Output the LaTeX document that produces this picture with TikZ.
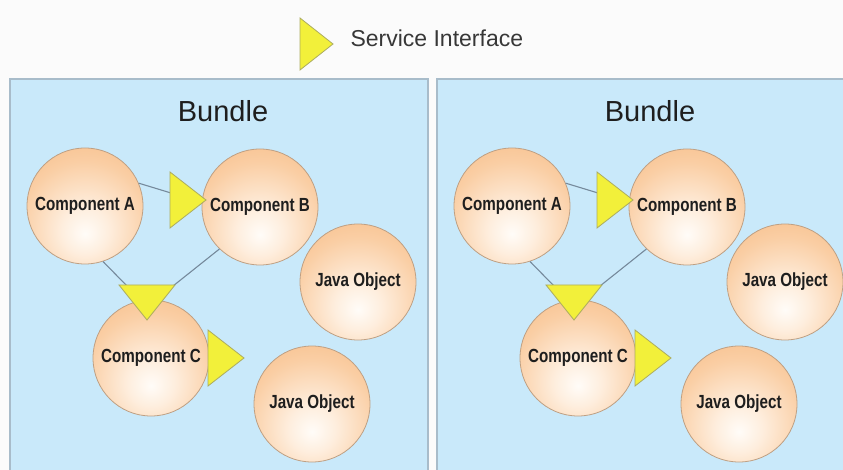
\documentclass[tikz,border=0pt]{standalone}
\usepackage{fontspec}
\setmainfont{Liberation Sans}
\usepackage{graphicx}
\usetikzlibrary{calc}

\definecolor{pagebg}{RGB}{251,251,251}
\definecolor{bundlefill}{RGB}{201,233,250}
\definecolor{bundleline}{RGB}{168,188,202}
\definecolor{orbedge}{RGB}{244,178,118}
\definecolor{orbmid}{RGB}{250,206,164}
\definecolor{orblight}{RGB}{254,238,222}
\definecolor{orbcore}{RGB}{255,252,248}
\definecolor{orbline}{RGB}{190,160,132}
\definecolor{ifacefill}{RGB}{242,240,58}
\definecolor{ifaceline}{RGB}{172,172,96}
\definecolor{wire}{RGB}{118,138,156}
\definecolor{ink}{RGB}{30,30,30}
\definecolor{softink}{RGB}{55,55,55}

% warm sphere shading, highlight a little below the centre
\pgfdeclareradialshading{orb}{\pgfpoint{0bp}{-12bp}}{%
  color(0bp)=(orbcore); color(10bp)=(orblight); color(28bp)=(orbmid);
  color(50bp)=(orbedge); color(100bp)=(orbedge)}

\newcommand\complabel[1]{\scalebox{0.8}[1]{#1}}

\tikzset{
  bundlebox/.style={fill=bundlefill, draw=bundleline, line width=1.2pt},
  bundletitle/.style={anchor=base, text=ink, font=\fontsize{29}{29}\selectfont},
  comp/.style={circle, minimum size=116pt, inner sep=0pt, shading=orb,
    draw=orbline, line width=0.8pt, text=ink,
    font=\fontsize{19}{19}\selectfont\bfseries},
  iface/.style={fill=ifacefill, draw=ifaceline, line width=0.8pt, line join=miter},
  wirestyle/.style={draw=wire, line width=1.1pt},
  ifaceright/.pic={\path[iface] (0,-28) -- (36,0) -- (0,28) -- cycle;},
  ifacedown/.pic={\path[iface] (-28,0) -- (28,0) -- (0,35) -- cycle;},
}

\begin{document}
\begin{tikzpicture}[x=1pt, y=-1pt]
  \clip (0,0) rectangle (843,470);
  \fill[pagebg] (0,0) rectangle (843,470);

  % legend
  \path[iface] (300,18) -- (333,44) -- (300,70) -- cycle;
  \node[anchor=base west, text=softink, font=\fontsize{23}{23}\selectfont]
    (legend) at (347,47) {Service Interface};

  \foreach \dx/\s in {0/l, 427/r}{
    \path[bundlebox] (10+\dx,79) rectangle (428+\dx,490);
    \node[bundletitle] (title\s) at (223+\dx,122) {Bundle};

    % interface positions
    \coordinate (pab\s) at (170+\dx,200);
    \coordinate (pc\s)  at (147+\dx,285);
    \coordinate (pco\s) at (208+\dx,358);

    % components and plain objects
    \node[comp] (A\s)  at (85+\dx,206)  {\raisebox{5pt}{\complabel{Component A}}};
    \node[comp] (B\s)  at (260+\dx,207) {\complabel{Component B}};
    \node[comp] (C\s)  at (151+\dx,358) {\complabel{Component C}};
    \node[comp] (J\s)  at (358+\dx,282) {\raisebox{3pt}{\complabel{Java Object}}};
    \node[comp] (K\s)  at (312+\dx,404) {\raisebox{4pt}{\complabel{Java Object}}};

    % wiring to the provided interfaces
    \path[wirestyle] (A\s.23) -- ($(pab\s)+(1,-7)$);
    \path[wirestyle] (A\s.-72) -- ($(pc\s)+(-20,1)$);
    \path[wirestyle] (B\s.-134) -- ($(pc\s)+(26,1)$);

    % service interfaces
    \pic at (pab\s) {ifaceright};
    \pic at (pc\s)  {ifacedown};
    \pic at (pco\s) {ifaceright};
  }
\end{tikzpicture}
\end{document}
